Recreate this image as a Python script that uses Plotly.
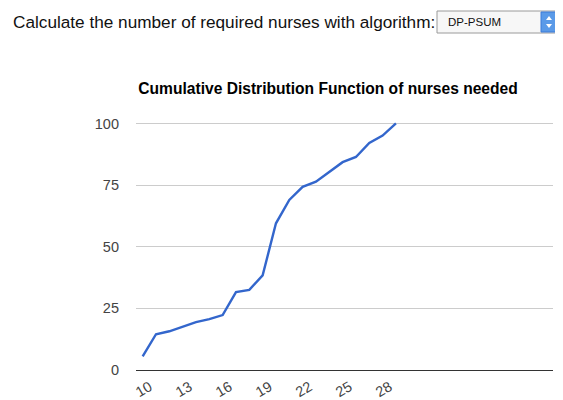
import plotly.graph_objects as go

# ---- data ----
nurses = [10, 11, 12, 13, 14, 15, 16, 17, 18, 19, 20, 21, 22, 23, 24, 25, 26, 27, 28, 29]
cdf = [5.5, 14.5, 15.7, 17.6, 19.4, 20.6, 22.3, 31.6, 32.5, 38.4,
       59.5, 69.0, 74.3, 76.4, 80.2, 84.3, 86.4, 92.1, 95.1, 100.0]
x_ticks = [10, 13, 16, 19, 22, 25, 28]
y_ticks = [0, 25, 50, 75, 100]
title = "Cumulative Distribution Function of nurses needed"
prompt = "Calculate the number of required nurses with algorithm:"
algorithm = "DP-PSUM"

OFF = 8  # page body margin
W, H = 563 - OFF, 400 - OFF
YTOP = 101.0
L, R, T, B = 136 - OFF, 10, 123 - OFF - round(247 * (YTOP - 100) / 100), 30
PW, PH = W - L - R, H - T - B


def px(x):  # page pixel -> paper
    return (x - OFF - L) / PW


def py(y):
    return (H - B - (y - OFF)) / PH


fig = go.Figure()
fig.add_trace(go.Scatter(x=nurses, y=cdf, mode="lines",
                         line=dict(color="#3366CC", width=2.4), hoverinfo="skip"))

shapes = []
annotations = []

# prompt text
annotations.append(dict(xref="paper", yref="paper", x=px(11), y=py(22), xanchor="left",
                        yanchor="middle", text=prompt, showarrow=False,
                        font=dict(family="Liberation Sans, Arial", size=17.2, color="#111")))
# select box
shapes.append(dict(type="rect", xref="paper", yref="paper", x0=px(437), x1=px(575),
                   y0=py(33), y1=py(11), line=dict(color="#9a9a9a", width=1),
                   fillcolor="#f7f7f7", layer="above"))
annotations.append(dict(xref="paper", yref="paper", x=px(446), y=py(22.5), xanchor="left",
                        yanchor="middle", text=algorithm, showarrow=False,
                        font=dict(family="Liberation Sans, Arial", size=11.5, color="#111")))
shapes.append(dict(type="rect", xref="paper", yref="paper", x0=px(541), x1=px(557),
                   y0=py(32), y1=py(12), line=dict(color="#3b7ad8", width=1),
                   fillcolor="#5a9ae8", layer="above"))
shapes.append(dict(type="path", xref="paper", yref="paper",
                   path=f"M {px(546)} {py(20)} L {px(552)} {py(20)} L {px(549)} {py(16)} Z",
                   fillcolor="white", line=dict(width=0), layer="above"))
shapes.append(dict(type="path", xref="paper", yref="paper",
                   path=f"M {px(546)} {py(24)} L {px(552)} {py(24)} L {px(549)} {py(28)} Z",
                   fillcolor="white", line=dict(width=0), layer="above"))

fig.update_layout(
    width=W, height=H,
    margin=dict(l=L, r=R, t=T, b=B, autoexpand=False),
    paper_bgcolor="white", plot_bgcolor="white",
    showlegend=False,
    title=dict(text=f"<b>{title}</b>", x=(328 - OFF) / W, xref="container", xanchor="center",
               y=1 - (89 - OFF) / H, yref="container", yanchor="middle",
               font=dict(family="Liberation Sans, Arial", size=15.6, color="#000")),
    font=dict(family="Liberation Sans, Arial", size=14.5, color="#444"),
    xaxis=dict(range=[9.5, 9.5 + PW / 13.33], tickvals=x_ticks, ticktext=[str(v) for v in x_ticks],
               tickangle=-30, showgrid=False, zeroline=False, showline=False,
               ticks="", ticklabelstandoff=5, ticklabelshift=7, automargin=False,
               fixedrange=True),
    yaxis=dict(range=[0, YTOP], tickvals=y_ticks, showgrid=True, gridcolor="#cccccc",
               gridwidth=1, zeroline=True, zerolinecolor="#333333", zerolinewidth=1,
               showline=False, ticks="", ticklabelstandoff=16, automargin=False,
               fixedrange=True),
    shapes=shapes, annotations=annotations,
)

fig.write_html("out.html", config=dict(displayModeBar=False))
